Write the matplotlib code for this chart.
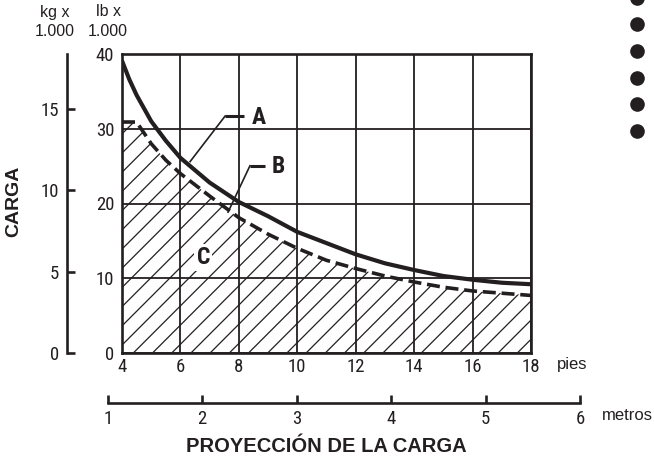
import matplotlib
matplotlib.use('Agg')
import matplotlib.pyplot as plt
from matplotlib.collections import LineCollection
import numpy as np

# ---------------- data ----------------
feet = [4, 4.25, 4.5, 5, 5.5, 6, 7, 8, 9, 10, 11, 12, 13, 14, 15, 16, 17, 18]
curve_a_lb = [39.1, 36.6, 34.5, 31.0, 28.4, 26.1, 22.8, 20.2, 18.3, 16.2, 14.7, 13.2, 12.0, 11.1, 10.3, 9.8, 9.4, 9.2]
curve_b_lb = [30.9, 30.9, 30.9, 28.0, 25.8, 24.0, 21.0, 18.1, 15.9, 14.0, 12.4, 11.3, 10.3, 9.5, 8.8, 8.3, 8.0, 7.7]
feet_ticks = [4, 6, 8, 10, 12, 14, 16, 18]
lb_ticks = [0, 10, 20, 30, 40]
kg_ticks = [0, 5, 10, 15]
metros_ticks = [1, 2, 3, 4, 5, 6]
bullet_y = [-2.5, 24.3, 51.0, 77.7, 104.3, 131.0]

INK = '#231f20'
NARROW = ['Roboto Condensed', 'PT Sans Narrow', 'DejaVu Sans']
REG = ['Liberation Sans', 'DejaVu Sans']
W, H = 654, 459
TICK_FS = 13.5

fig = plt.figure(figsize=(W / 100, H / 100), dpi=100)

# ---------------- main axes ----------------
ax = fig.add_axes([122 / W, 1 - 353 / H, 409 / W, 299 / H])
ax.set_xlim(4, 18)
ax.set_ylim(0, 40)
ax.set_xticks(feet_ticks)
ax.set_yticks(lb_ticks)
ax.grid(True, color=INK, lw=1.3)
ax.set_axisbelow(True)
ax.tick_params(length=0, labelsize=TICK_FS, colors=INK)
ax.tick_params(axis='x', pad=3.5)
ax.tick_params(axis='y', pad=5.5)
for lab in ax.get_xticklabels() + ax.get_yticklabels():
    lab.set_family(NARROW)
for s in ax.spines.values():
    s.set_linewidth(1.9)
    s.set_color(INK)
    s.set_zorder(6)

# hatch under curve B
fill = ax.fill_between(feet, curve_b_lb, 0, facecolor='none', edgecolor='none')
clip_path = fill.get_paths()[0]
ks = np.arange(-25, 25)
x0s = (11.3 + 19.2 * ks) / 409
segs = [[(x0, 0), (x0 + 299 / 409, 1)] for x0 in x0s]
lc = LineCollection(segs, transform=ax.transAxes, colors=INK, linewidths=0.9, zorder=2)
ax.add_collection(lc, autolim=False)
lc.set_clip_path(clip_path, ax.transData)

# curves
ax.plot(feet, curve_a_lb, color=INK, lw=3.0, zorder=5, solid_capstyle='butt')
ax.plot(feet, curve_b_lb, color=INK, lw=2.6, ls=(0, (3.6, 1.6)), zorder=5,
        dash_capstyle='butt')

# leaders and labels
ax.plot([7.53, 6.33], [31.7, 25.6], color=INK, lw=1.2, zorder=4)
ax.plot([7.53, 8.18], [31.7, 31.7], color=INK, lw=2.2, zorder=4, solid_capstyle='butt')
ax.text(8.69, 31.47, 'A', ha='center', va='center', fontsize=17, fontweight='bold',
        family=NARROW, color=INK, zorder=6)
ax.plot([8.38, 7.63], [25.05, 18.85], color=INK, lw=1.2, zorder=4)
ax.plot([8.38, 8.90], [25.05, 25.05], color=INK, lw=2.2, zorder=4, solid_capstyle='butt')
ax.text(9.35, 24.9, 'B', ha='center', va='center', fontsize=17, fontweight='bold',
        family=NARROW, color=INK, zorder=6)
ax.text(6.78, 12.75, 'C', ha='center', va='center', fontsize=17, fontweight='bold',
        family=NARROW, color=INK, zorder=3,
        bbox=dict(facecolor='white', edgecolor='none', pad=1.5))

# ---------------- kg axis ----------------
axk = fig.add_axes([67 / W, 1 - 353 / H, 0.001, 299 / H])
axk.set_ylim(0, 18.39)
axk.set_yticks(kg_ticks)
axk.set_xticks([])
axk.patch.set_visible(False)
for n, s in axk.spines.items():
    s.set_visible(n == 'left')
axk.spines['left'].set_linewidth(1.9)
axk.spines['left'].set_color(INK)
axk.tick_params(axis='y', direction='in', length=6, width=1.9, pad=5.5, labelsize=TICK_FS, colors=INK)
for lab in axk.get_yticklabels():
    lab.set_family(NARROW)

# ---------------- metros axis ----------------
axm = fig.add_axes([107.7 / W, 1 - 402.7 / H, (580 - 107.7) / W, 0.001])
axm.set_xlim(1, 6)
axm.set_xticks(metros_ticks)
axm.set_yticks([])
axm.patch.set_visible(False)
for n, s in axm.spines.items():
    s.set_visible(n == 'bottom')
axm.spines['bottom'].set_linewidth(1.9)
axm.spines['bottom'].set_color(INK)
axm.tick_params(axis='x', direction='in', length=6, width=1.9, pad=5, labelsize=TICK_FS, colors=INK)
for lab in axm.get_xticklabels():
    lab.set_family(NARROW)

# ---------------- texts ----------------
def ft(x, y, s, **kw):
    fig.text(x / W, 1 - y / H, s, color=INK, **kw)

ft(55, 12, 'kg x', ha='center', va='center', fontsize=11.5, family=REG)
ft(55, 31, '1.000', ha='center', va='center', fontsize=11.5, family=REG)
ft(108, 12, 'lb x', ha='center', va='center', fontsize=11.5, family=REG)
ft(108, 31, '1.000', ha='center', va='center', fontsize=11.5, family=REG)
ft(14, 201, 'CARGA', ha='center', va='center', rotation=90, fontsize=14,
   fontweight='bold', family=REG)
ft(572, 365, 'pies', ha='center', va='center', fontsize=12, family=REG)
ft(602, 416, 'metros', ha='left', va='center', fontsize=12, family=REG)
ft(326.5, 447, 'PROYECCIÓN DE LA CARGA', ha='center', va='center', fontsize=14.5,
   fontweight='bold', family=REG)

# bullets
axo = fig.add_axes([0, 0, 1, 1])
axo.set_xlim(0, W)
axo.set_ylim(H, 0)
axo.axis('off')
axo.plot([636.7] * len(bullet_y), bullet_y, 'o', color=INK, ms=9.5, clip_on=False)

fig.savefig('out.png', dpi=100)
